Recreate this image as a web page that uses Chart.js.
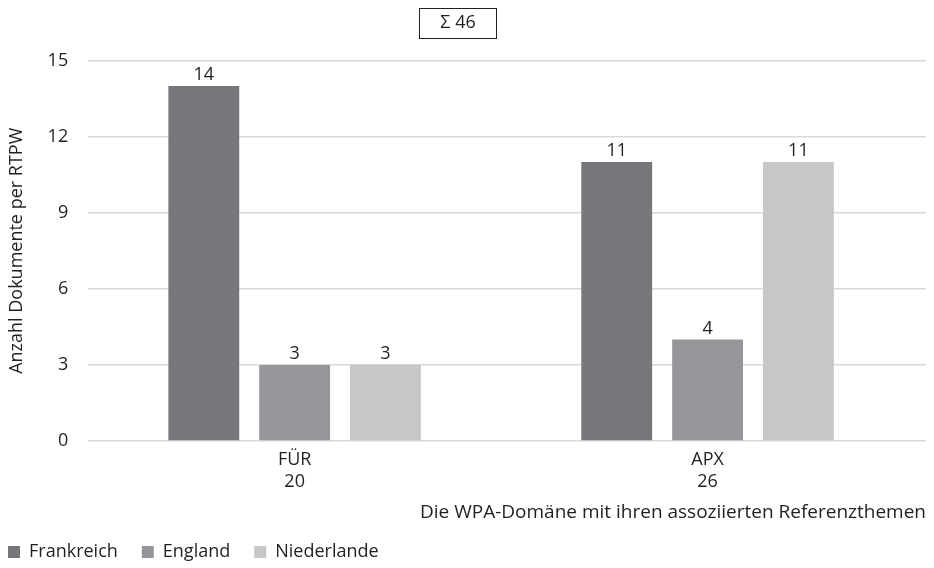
<!DOCTYPE html>
<html>
<head>
<meta charset="utf-8">
<script src="https://cdn.jsdelivr.net/npm/chart.js@4"></script>
<style>
  html, body { margin: 0; padding: 0; background: #fff; }
  #wrap { position: relative; width: 934px; height: 568px; }
</style>
</head>
<body>
<div id="wrap"><canvas id="chart"></canvas></div>
<script>
const categories = [['FÜR', '20'], ['APX', '26']];
const seriesNames = ['Frankreich', 'England', 'Niederlande'];
const frankreich = [14, 11];
const england = [3, 4];
const niederlande = [3, 11];
const totalLabel = 'Σ 46';
const yTicks = [0, 3, 6, 9, 12, 15];

const colors = ['#76777b', '#95969a', '#c6c7c9'];
const FONT = '"Open Sans", sans-serif';
const FS = 18;
const TEXT = '#231f20';
const TITLE_PAD_TOP = 12;
const LEGEND_PAD = 24;

// value labels above bars
const valueLabels = {
  id: 'valueLabels',
  afterDatasetsDraw(chart) {
    const ctx = chart.ctx;
    ctx.save();
    ctx.font = FS + 'px ' + FONT;
    ctx.fillStyle = TEXT;
    ctx.textAlign = 'center';
    ctx.textBaseline = 'bottom';
    chart.data.datasets.forEach((ds, i) => {
      chart.getDatasetMeta(i).data.forEach((bar, j) => {
        ctx.fillText(ds.data[j], bar.x, bar.y - 2);
      });
    });
    ctx.restore();
  }
};

// box round the title, nudge title and legend
const titleBox = {
  id: 'titleBox',
  afterLayout(chart) {
    if (chart.legend) {
      chart.legend.left = 8 - LEGEND_PAD;
      chart.legend.top += 3;
    }
    if (chart.titleBlock) {
      chart.titleBlock.left -= 5;
      chart.titleBlock.right -= 5;
    }
  },
  afterDraw(chart) {
    const tb = chart.titleBlock;
    if (!tb) return;
    const ctx = chart.ctx;
    ctx.save();
    ctx.font = FS + 'px ' + FONT;
    const w = ctx.measureText(totalLabel).width + 42;
    const cx = (tb.left + tb.right) / 2;
    const cy = tb.top + TITLE_PAD_TOP + FS * 0.6;
    ctx.strokeStyle = TEXT;
    ctx.lineWidth = 1;
    ctx.strokeRect(Math.round(cx - w / 2) + 0.5, Math.round(cy - 15) + 0.5, Math.round(w), 30);
    ctx.restore();
  }
};

new Chart(document.getElementById('chart'), {
  type: 'bar',
  data: {
    labels: categories,
    datasets: [
      { label: seriesNames[0], data: frankreich, backgroundColor: colors[0] },
      { label: seriesNames[1], data: england, backgroundColor: colors[1] },
      { label: seriesNames[2], data: niederlande, backgroundColor: colors[2] }
    ]
  },
  options: {
    responsive: true,
    maintainAspectRatio: false,
    animation: false,
    categoryPercentage: 0.66,
    barPercentage: 0.78,
    layout: { padding: { left: 0, right: 8, top: 0, bottom: 0 } },
    plugins: {
      title: {
        display: true,
        text: totalLabel,
        color: TEXT,
        font: { family: FONT, size: FS, weight: 'normal' },
        padding: { top: TITLE_PAD_TOP, bottom: 27 }
      },
      legend: {
        display: true,
        position: 'bottom',
        align: 'start',
        labels: {
          color: TEXT,
          font: { family: FONT, size: FS },
          boxWidth: 12,
          boxHeight: 12,
          padding: LEGEND_PAD
        }
      },
      tooltip: { enabled: false }
    },
    scales: {
      x: {
        // leave a little room after the last group, as in the original
        afterBuildTicks(axis) { axis._valueRange = 2.029; },
        grid: { display: false },
        border: { display: false },
        ticks: { color: TEXT, font: { family: FONT, size: FS }, padding: 0 },
        title: {
          display: true,
          text: 'Die WPA-Domäne mit ihren assoziierten Referenzthemen',
          align: 'end',
          color: TEXT,
          font: { family: FONT, size: 19 },
          padding: { top: 9, bottom: -8 }
        }
      },
      y: {
        min: 0,
        max: 15,
        afterBuildTicks(axis) {
          axis.ticks = yTicks.map(v => ({ value: v }));
        },
        grid: { color: '#d9d9d9', lineWidth: 1.5, drawTicks: false },
        border: { display: false },
        ticks: { color: TEXT, font: { family: FONT, size: FS }, padding: 20 },
        title: {
          display: true,
          text: 'Anzahl Dokumente per RTPW',
          color: TEXT,
          font: { family: FONT, size: FS },
          padding: { top: 6, bottom: 0 }
        }
      }
    }
  },
  plugins: [valueLabels, titleBox]
});
</script>
</body>
</html>
